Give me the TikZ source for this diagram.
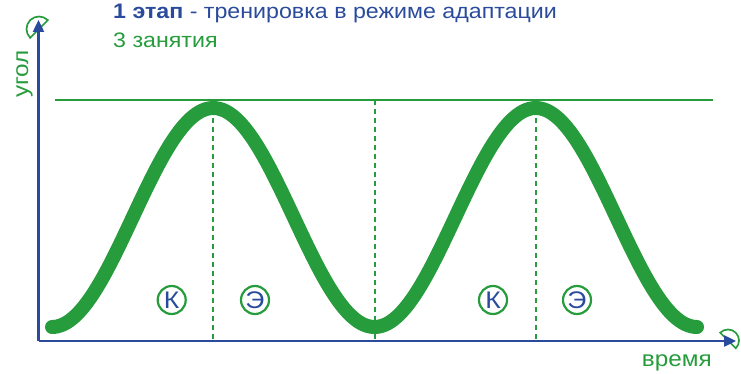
\documentclass[tikz,border=0pt]{standalone}
\usepackage{fontspec}
\setmainfont{Liberation Sans}[FakeStretch=1.105]
\usetikzlibrary{arrows.meta,calc}
\definecolor{cblue}{RGB}{42,75,155}
\definecolor{cgreen}{RGB}{38,156,60}
\tikzset{
  axis/.style={draw=cblue, line width=2.4pt, -{Triangle[width=11pt,length=12pt]}},
  icon/.style={draw=cgreen, line width=1.7pt, fill=white},
  guide/.style={draw=cgreen, line width=1.1pt},
  dashguide/.style={draw=cgreen, line width=1.3pt, dash pattern=on 5pt off 4pt},
  wave/.style={draw=cgreen, line width=14pt, line cap=round, line join=round},
  marker/.style={circle, draw=cgreen, line width=2.2pt, minimum size=28pt, inner sep=0pt, text=cblue, font=\fontsize{24}{26}\selectfont},
  lbl/.style={inner sep=0pt, font=\fontsize{21}{25}\selectfont},
  axlbl/.style={inner sep=0pt, text=cgreen, font=\fontsize{22}{25}\selectfont}
}
\begin{document}
\begin{tikzpicture}[x=1pt,y=-1pt]
\useasboundingbox (0,0) rectangle (741,374);
% coordinates
\coordinate (O) at (38.5,341);
\coordinate (Ytop) at (38.5,20);
\coordinate (Xend) at (736,341);
\coordinate (Ic1) at (39,29);
\coordinate (Ic2) at (728,340.5);
\coordinate (L1) at (55,100);
\coordinate (L2) at (713,100);
\coordinate (D1t) at (213,100);
\coordinate (D1b) at (213,341);
\coordinate (D2t) at (375,100);
\coordinate (D2b) at (375,341);
\coordinate (D3t) at (536,100);
\coordinate (D3b) at (536,341);
% icons
\draw[icon] ($(Ic1)+(45:12.5pt)$) arc[start angle=45,end angle=225,radius=12.5pt] -- cycle;
\draw[icon] ($(Ic2)+(-45:11pt)$) arc[start angle=-45,end angle=135,radius=11pt] -- cycle;
% guides
\draw[guide] (L1) -- (L2);
\draw[dashguide] (D1t) -- (D1b);
\draw[dashguide] (D2t) -- (D2b);
\draw[dashguide] (D3t) -- (D3b);
% wave
\draw[wave] plot[domain=52:697, samples=220, smooth] (\x, {217.5+109.5*cos((\x-52)*1.116279)});
% axes
\draw[axis] (O) -- (Ytop);
\draw[axis] (O) -- (Xend);
% markers
\node[marker] (k1) at (171.7,300) {К};
\node[marker] (e1) at (255,300) {Э};
\node[marker] (k2) at (493,300) {К};
\node[marker] (e2) at (577,300) {Э};
% texts
\node[lbl, anchor=base west, text=cblue] (title) at (113,19) {\textbf{1 этап} - тренировка в режиме адаптации};
\node[lbl, anchor=base west, text=cgreen] (sub) at (113,48) {3 занятия};
\node[axlbl, anchor=base west, rotate=90] (ylab) at (28,98) {угол};
\node[axlbl, anchor=base east] (xlab) at (712,366) {время};
\end{tikzpicture}
\end{document}
